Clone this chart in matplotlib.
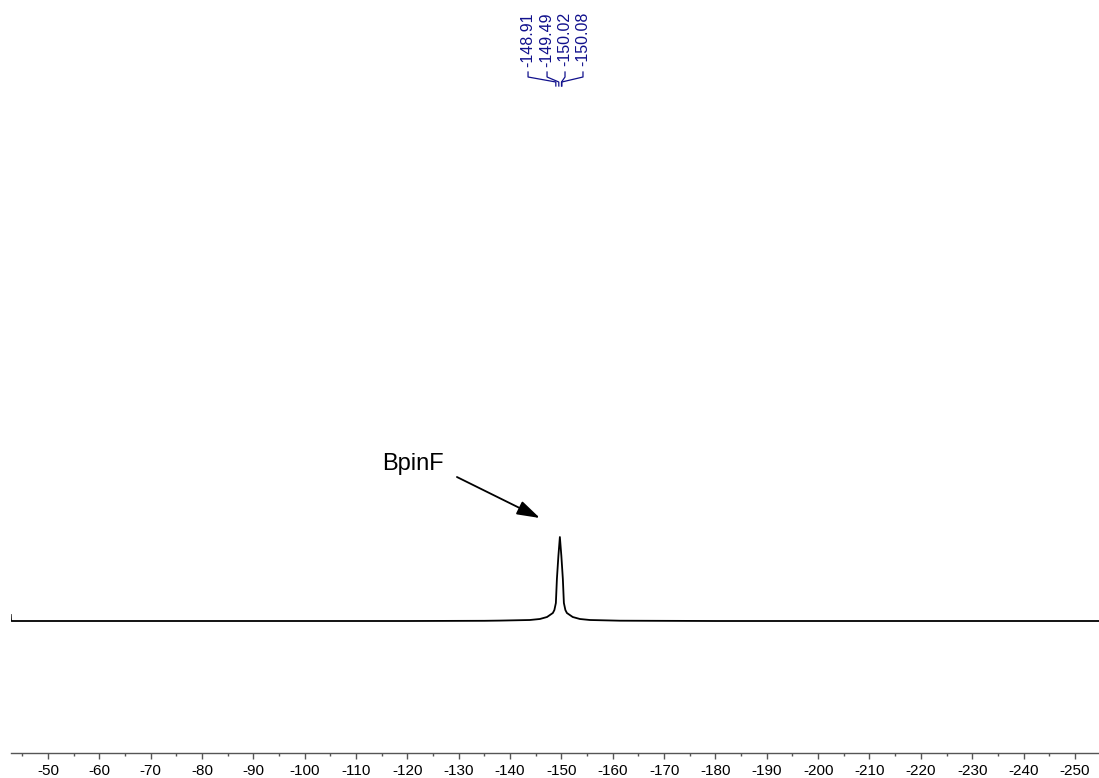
import matplotlib
matplotlib.use("Agg")
import matplotlib.pyplot as plt
from matplotlib.ticker import MultipleLocator

plt.rcParams['font.family'] = ['Liberation Sans', 'DejaVu Sans']

# spectrum trace (ppm, intensity)
spec_ppm = [-42.75, -42.8, -42.9, -80.0, -120.0, -135.0, -138.0, -143.85, -145.8, -147.2,
            -148.33, -148.63, -148.92, -149.12, -149.41, -149.7, -149.99, -150.28,
            -150.48, -150.77, -151.07, -152.2, -153.6, -155.55, -161.4, -180.0,
            -220.0, -254.7]
spec_int = [6.0, 0.5, 0.0, 0.0, 0.0, 0.2, 0.4, 1.0, 2.0, 4.0,
            8.0, 11.0, 18.0, 42.0, 65.0, 84.0, 65.0, 42.0,
            18.0, 11.0, 8.0, 4.0, 2.0, 1.0, 0.3, 0.0,
            0.0, 0.0]

peak_labels = ["-148.91", "-149.49", "-150.02", "-150.08"]
peak_shifts = [-148.91, -149.49, -150.02, -150.08]
label_ppm = [-143.5, -147.2, -150.7, -154.2]

annot_text = "BpinF"

fig = plt.figure(figsize=(10.99, 7.78), dpi=100)
ax = fig.add_axes([11 / 1099, 25 / 778, 1 - 11 / 1099, 753 / 778])

ax.plot(spec_ppm, spec_int, color='black', lw=1.3)

ax.set_xlim(-42.8, -254.7)
ax.set_ylim(-132, 621)

for s in ['top', 'left', 'right']:
    ax.spines[s].set_visible(False)
ax.spines['bottom'].set_color('#555555')
ax.spines['bottom'].set_linewidth(1.0)
ax.set_yticks([])
ax.xaxis.set_major_locator(MultipleLocator(10))
ax.xaxis.set_minor_locator(MultipleLocator(5))
ax.tick_params(axis='x', which='major', length=4, width=1, color='#555555',
               labelsize=11, pad=4)
ax.tick_params(axis='x', which='minor', length=2, width=1, color='#555555')
ax.xaxis.set_major_formatter(plt.FuncFormatter(lambda v, p: f"{v:.0f}"))

# peak labels (y in pixel-like data units: y = 621 - pixel row)
navy = '#10108c'
for lab, lp, pk in zip(peak_labels, label_ppm, peak_shifts):
    ax.text(lp, 621 - 12, lab, rotation=90, ha='center', va='top',
            fontsize=11.5, color=navy)
    ax.plot([lp, lp, pk, pk], [621 - 72, 621 - 77, 621 - 82, 621 - 86],
            color=navy, lw=0.9)

ax.text(-121.1, 621 - 464, annot_text, fontsize=17, ha='center', va='center')
ax.annotate('', xy=(-145.8, 621 - 518), xytext=(-129.65, 621 - 477),
            arrowprops=dict(arrowstyle='-|>,head_length=0.7,head_width=0.22',
                            color='black', lw=1.3,
                            mutation_scale=20, shrinkA=0, shrinkB=0))

fig.savefig("out.png", dpi=100)
